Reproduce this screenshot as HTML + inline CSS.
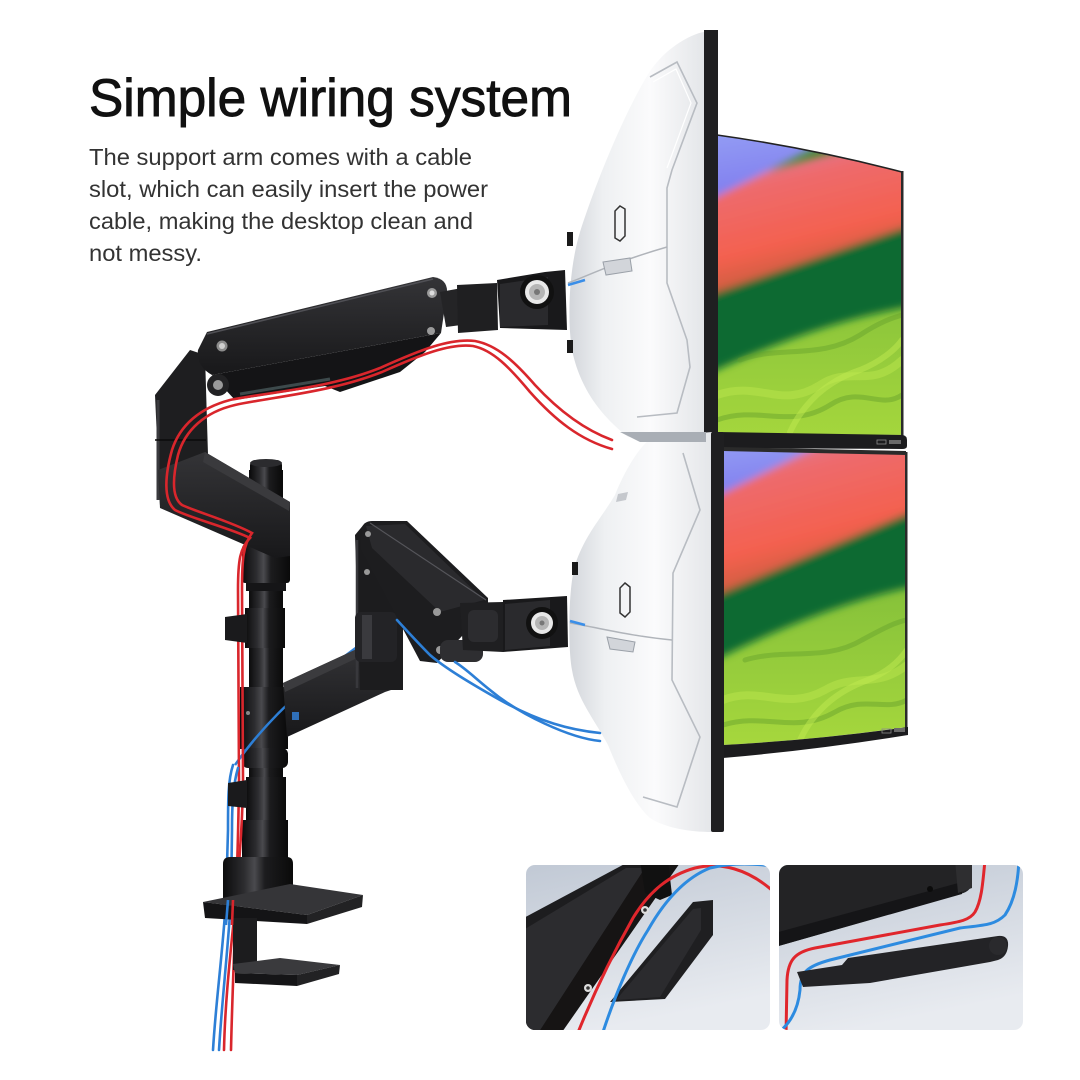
<!DOCTYPE html>
<html><head><meta charset="utf-8">
<style>
html,body{margin:0;padding:0;background:#fff;}
svg{display:block;}
</style></head><body>
<svg width="1080" height="1080" viewBox="0 0 1080 1080" xmlns="http://www.w3.org/2000/svg">
<defs>
 <linearGradient id="shell" x1="0" y1="0" x2="1" y2="0">
  <stop offset="0" stop-color="#d3d6db"/>
  <stop offset="0.25" stop-color="#eef0f2"/>
  <stop offset="0.6" stop-color="#fbfbfc"/>
  <stop offset="1" stop-color="#e4e6e9"/>
 </linearGradient>
 <linearGradient id="pole" x1="0" y1="0" x2="1" y2="0">
  <stop offset="0" stop-color="#0b0b0c"/>
  <stop offset="0.3" stop-color="#2c2c2f"/>
  <stop offset="0.45" stop-color="#4a4a4e"/>
  <stop offset="0.6" stop-color="#1c1c1e"/>
  <stop offset="1" stop-color="#0a0a0a"/>
 </linearGradient>
 <linearGradient id="beam" x1="0" y1="0" x2="0" y2="1">
  <stop offset="0" stop-color="#343437"/>
  <stop offset="1" stop-color="#18181a"/>
 </linearGradient>
 <linearGradient id="lime" x1="0" y1="0" x2="0" y2="1">
  <stop offset="0" stop-color="#2f7a2c"/>
  <stop offset="0.45" stop-color="#84c03a"/>
  <stop offset="1" stop-color="#a7d83d"/>
 </linearGradient>
 <linearGradient id="redband" x1="0" y1="0" x2="0.35" y2="1">
  <stop offset="0" stop-color="#c98fc6"/>
  <stop offset="0.35" stop-color="#ee6a6c"/>
  <stop offset="0.7" stop-color="#f4614f"/>
  <stop offset="1" stop-color="#b65a36"/>
 </linearGradient>
 <linearGradient id="blueband" x1="0" y1="0" x2="0.3" y2="1">
  <stop offset="0" stop-color="#9aa8f6"/>
  <stop offset="1" stop-color="#7d78ee"/>
 </linearGradient>
 <linearGradient id="inset" x1="0" y1="0" x2="0.3" y2="1">
  <stop offset="0" stop-color="#c1c9d5"/>
  <stop offset="1" stop-color="#e8ebf0"/>
 </linearGradient>
 <filter id="blur4" x="-20%" y="-20%" width="140%" height="140%"><feGaussianBlur stdDeviation="4"/></filter>
 <clipPath id="scr1"><path d="M717,135 Q810,148 902,172 L902,435 L717,433 Z"/></clipPath>
 <clipPath id="scr2"><path d="M723,449 L907,454 L907,727 Q815,740 723,745 Z"/></clipPath>
 <clipPath id="ins1"><rect x="526" y="865" width="244" height="165" rx="9"/></clipPath>
 <clipPath id="ins2"><rect x="779" y="865" width="244" height="165" rx="9"/></clipPath>
</defs>

<rect width="1080" height="1080" fill="#ffffff"/>

<!-- TEXT -->
<text x="89" y="116" font-family="Liberation Sans, Arial, sans-serif" font-size="53" fill="#111" stroke="#111" stroke-width="0.9" textLength="483" lengthAdjust="spacingAndGlyphs">Simple wiring system</text>
<g font-family="Liberation Sans, Arial, sans-serif" font-size="23.5" fill="#333">
 <text x="89" y="165" textLength="383" lengthAdjust="spacingAndGlyphs">The support arm comes with a cable</text>
 <text x="89" y="197" textLength="399" lengthAdjust="spacingAndGlyphs">slot, which can easily insert the power</text>
 <text x="89" y="229" textLength="384" lengthAdjust="spacingAndGlyphs">cable, making the desktop clean and</text>
 <text x="89" y="261" textLength="113" lengthAdjust="spacingAndGlyphs">not messy.</text>
</g>

<!-- TOP MONITOR -->
<g clip-path="url(#scr1)">
 <rect x="710" y="120" width="200" height="330" fill="url(#lime)"/>
 <g filter="url(#blur4)">
  <path d="M700,285 L920,212 L920,305 Q820,320 700,378 Z" fill="#0f6a30"/>
  <path d="M700,190 L880,140 L920,150 L920,222 L700,298 Z" fill="url(#redband)"/>
  <path d="M700,110 L890,110 L700,205 Z" fill="url(#blueband)"/>
 </g>
 <g fill="none" stroke-linecap="round">
  <path d="M717,395 C760,380 780,410 820,385 C850,365 870,390 902,360" stroke="#b8e44a" stroke-width="8" opacity="0.55"/>
  <path d="M717,420 C760,405 790,430 830,405 C860,385 880,410 902,395" stroke="#6aa42c" stroke-width="5" opacity="0.5"/>
  <path d="M790,432 C805,400 830,380 860,370 C880,362 895,350 902,340" stroke="#c0ea50" stroke-width="6" opacity="0.5"/>
  <path d="M740,360 C780,345 820,360 860,335 C880,322 892,318 902,315" stroke="#5f9a2a" stroke-width="5" opacity="0.4"/>
 </g>
</g>
<path d="M717,135 Q810,148 902,172" fill="none" stroke="#222" stroke-width="1.5"/>
<rect x="901" y="171" width="2.5" height="266" fill="#2a2a2a"/>
<path d="M717,432 L903,435 Q907,436 907,440 L907,446 Q907,449 902,449 L717,448 Z" fill="#1c1c1e"/>
<rect x="877" y="440" width="9" height="4" fill="none" stroke="#8a8a8a" stroke-width="0.8"/>
<rect x="889" y="440" width="12" height="4" fill="#6a6a6a"/>

<!-- top shell -->
<path d="M704,32 C690,34 662,50 647,76 C622,118 595,185 580,232 C569,268 567,318 572,350 C580,388 600,415 628,437 L704,440 Z" fill="url(#shell)"/>
<path d="M650,77 L677,62 L697,103 L672,170 L667,188 L667,283 L687,340 L690,367 L677,413 L637,417" fill="none" stroke="#b8bcc2" stroke-width="1.6"/>
<path d="M653,82 L676,69 L691,103 L667,168" fill="none" stroke="#ffffff" stroke-width="1.2"/>
<path d="M568,283 C590,275 615,262 667,247" fill="none" stroke="#b0b4ba" stroke-width="1.5"/>
<path d="M568,285 L585,280" stroke="#3a8ee8" stroke-width="2.5"/>
<path d="M603,262 L630,258 L632,271 L606,275 Z" fill="#d2d5da" stroke="#9aa0a8" stroke-width="1"/>
<path d="M620,206 L625,209 L625,236 L620,241 L615,238 L615,211 Z" fill="none" stroke="#333" stroke-width="1.5"/>
<rect x="567" y="232" width="6" height="14" fill="#1a1a1a"/>
<rect x="567" y="340" width="6" height="13" fill="#1a1a1a"/>
<rect x="704" y="30" width="14" height="406" fill="#1f1f21"/>

<!-- BOTTOM MONITOR -->
<g clip-path="url(#scr2)">
 <rect x="715" y="440" width="200" height="310" fill="url(#lime)"/>
 <g filter="url(#blur4)">
  <path d="M700,595 L920,500 L920,585 Q820,605 700,668 Z" fill="#0f6a30"/>
  <path d="M700,490 L840,430 L920,430 L920,508 L700,602 Z" fill="url(#redband)"/>
  <path d="M700,425 L860,425 L700,505 Z" fill="url(#blueband)"/>
 </g>
 <g fill="none" stroke-linecap="round">
  <path d="M723,700 C760,685 785,712 825,690 C855,672 875,690 907,665" stroke="#b8e44a" stroke-width="8" opacity="0.55"/>
  <path d="M723,725 C765,712 795,735 835,712 C865,695 885,712 907,700" stroke="#6aa42c" stroke-width="5" opacity="0.5"/>
  <path d="M800,740 C815,708 840,690 868,680 C888,672 900,660 907,650" stroke="#c0ea50" stroke-width="6" opacity="0.5"/>
  <path d="M745,660 C785,648 825,662 862,640 C884,628 896,622 907,620" stroke="#5f9a2a" stroke-width="5" opacity="0.4"/>
 </g>
</g>
<path d="M723,447 L906,451 L906,455 L723,451 Z" fill="#2a2a2a"/>
<rect x="905" y="452" width="2.5" height="282" fill="#2a2a2a"/>
<path d="M723,745 Q815,740 908,727 L908,735 Q815,750 723,758 Z" fill="#1c1c1e"/>
<rect x="882" y="729" width="9" height="4" fill="none" stroke="#8a8a8a" stroke-width="0.8"/>
<rect x="894" y="728" width="11" height="4" fill="#6a6a6a"/>

<!-- bottom shell -->
<path d="M712,432 L653,437 C640,445 625,470 615,495 C600,520 585,535 575,565 C568,590 568,650 572,670 C577,700 595,720 608,745 C620,775 635,805 650,818 C665,828 690,832 712,832 Z" fill="url(#shell)"/>
<path d="M620,432 L706,432 L706,442 L640,442 Z" fill="#a9aeb5"/>
<path d="M683,453 L700,510 L673,573 L672,680 L700,737 L677,807 L643,797" fill="none" stroke="#b8bcc2" stroke-width="1.6"/>
<path d="M570,623 C600,628 630,636 672,640" fill="none" stroke="#b0b4ba" stroke-width="1.5"/>
<path d="M570,621 L585,625" stroke="#3a8ee8" stroke-width="2.5"/>
<path d="M607,637 L635,642 L633,652 L610,649 Z" fill="#d2d5da" stroke="#9aa0a8" stroke-width="1"/>
<path d="M625,583 L630,587 L630,612 L625,617 L620,613 L620,588 Z" fill="none" stroke="#333" stroke-width="1.5"/>
<rect x="572" y="562" width="6" height="13" fill="#1a1a1a"/>
<path d="M618,494 L628,492 L626,500 L616,502 Z" fill="#c5c8cd"/>
<rect x="711" y="432" width="13" height="400" rx="2" fill="#1f1f21"/>

<!-- POLE -->
<rect x="249" y="470" width="34" height="390" fill="url(#pole)"/>
<rect x="250" y="460" width="32" height="45" rx="5" fill="url(#pole)"/>
<ellipse cx="266" cy="463" rx="16" ry="4" fill="#2b2b2e"/>
<rect x="242" y="545" width="48" height="38" rx="3" fill="url(#pole)"/>
<rect x="246" y="583" width="40" height="8" fill="#151517"/>
<rect x="245" y="608" width="40" height="40" fill="url(#pole)"/>
<rect x="240" y="687" width="48" height="62" fill="url(#pole)"/>
<circle cx="248" cy="713" r="2" fill="#888"/>
<rect x="242" y="748" width="46" height="20" rx="6" fill="url(#pole)"/>
<rect x="246" y="777" width="40" height="43" fill="url(#pole)"/>
<rect x="242" y="820" width="46" height="38" fill="url(#pole)"/>

<!-- hidden blue behind lower arm -->
<path d="M397,620 C350,650 280,700 235,765" fill="none" stroke="#2d7fd6" stroke-width="2.5"/>

<!-- UPPER ARM -->
<path d="M155,395 L190,350 L205,355 L208,455 L205,505 L160,505 Z" fill="#1e1e20"/>
<line x1="158" y1="400" x2="158" y2="500" stroke="#3a3a3e" stroke-width="3"/>
<line x1="155" y1="440" x2="206" y2="440" stroke="#0a0a0a" stroke-width="1.5"/>
<path d="M158,470 L205,452 L290,502 L290,556 L275,558 L160,508 Z" fill="url(#beam)"/>
<path d="M205,452 L290,502 L289,511 L203,462 Z" fill="#3a3a3d"/>
<path d="M212,375 L441,333 L425,352 L400,372 L340,392 L325,386 L235,400 Z" fill="#141416"/>
<path d="M240,394 L330,379" stroke="#3d4a4c" stroke-width="3"/>
<path d="M207,332 L433,277 Q448,279 447,293 L441,333 L212,375 Q196,366 198,350 Z" fill="url(#beam)"/>
<path d="M207,334 L433,279" stroke="#505055" stroke-width="1.5"/>
<circle cx="218" cy="385" r="11" fill="#222224"/>
<circle cx="218" cy="385" r="5" fill="#9a9a9a"/>
<circle cx="222" cy="346" r="5.5" fill="#8c8c8c"/><circle cx="222" cy="346" r="3" fill="#cfcfcf"/>
<circle cx="432" cy="293" r="5" fill="#9a9a9a"/><circle cx="432" cy="293" r="2.5" fill="#ddd"/>
<circle cx="431" cy="331" r="4" fill="#9a9a9a"/>
<path d="M440,292 L462,288 L484,300 L484,322 L446,327 Z" fill="#242426"/>
<path d="M457,285 L497,283 L498,330 L458,333 Z" fill="#1f1f21"/>
<path d="M497,280 L545,272 L565,270 L567,330 L500,328 Z" fill="#19191b"/>
<path d="M500,284 L548,277 L548,325 L500,327 Z" fill="#2a2a2d"/>
<circle cx="537" cy="292" r="17" fill="#111"/>
<circle cx="537" cy="292" r="12" fill="#e9e9e9"/>
<circle cx="537" cy="292" r="8" fill="#b5b5b5"/>
<circle cx="537" cy="292" r="3" fill="#777"/>

<!-- LOWER ARM -->
<path d="M283,683 L370,643 L400,645 L400,687 L385,692 L287,737 Z" fill="url(#beam)"/>
<path d="M283,683 L370,643 L372,651 L285,692 Z" fill="#3b3b3e"/>
<rect x="292" y="712" width="7" height="8" fill="#2f6fb8"/>
<path d="M355,535 L365,523 L403,522 L403,690 L360,690 Z" fill="#1c1c1e"/>
<line x1="357" y1="540" x2="357" y2="688" stroke="#38383c" stroke-width="2.5"/>
<rect x="355" y="612" width="42" height="50" rx="6" fill="#232326"/>
<rect x="362" y="615" width="10" height="44" fill="#3a3a3e"/>
<path d="M362,527 Q365,521 372,521 L407,521 L488,598 L488,608 L437,663 L420,661 L360,548 Z" fill="#1d1d1f"/>
<path d="M366,526 L405,524 L484,600 L440,612 L372,548 Z" fill="#2a2a2d"/>
<path d="M370,523 L486,600" stroke="#55555a" stroke-width="1.2"/>
<circle cx="368" cy="534" r="3" fill="#999"/>
<circle cx="367" cy="572" r="3" fill="#999"/>
<circle cx="437" cy="612" r="4" fill="#999"/>
<circle cx="440" cy="650" r="4" fill="#999"/>
<rect x="440" y="640" width="43" height="22" rx="8" fill="#2e2e31"/>
<path d="M460,603 L503,602 L503,652 L463,650 Z" fill="#1f1f21"/>
<rect x="468" y="610" width="30" height="32" rx="6" fill="#2c2c2f"/>
<path d="M503,600 L567,596 L568,647 L503,652 Z" fill="#19191b"/>
<path d="M505,604 L550,600 L550,646 L505,650 Z" fill="#2a2a2d"/>
<circle cx="542" cy="623" r="16" fill="#111"/>
<circle cx="542" cy="623" r="11" fill="#e9e9e9"/>
<circle cx="542" cy="623" r="7" fill="#b5b5b5"/>
<circle cx="542" cy="623" r="2.5" fill="#777"/>

<!-- RED CABLES -->
<g fill="none" stroke="#d9262c" stroke-width="2.6" stroke-linecap="round">
 <path d="M612,440 C585,430 560,412 535,385 C515,362 497,345 475,341 C450,338 420,350 380,368 C330,388 270,392 230,400 C200,408 180,425 172,450 C165,475 163,500 175,510 C190,518 230,528 250,538 C240,548 238,560 238,590 L239,780 C238,880 233,960 231,1050"/>
 <path d="M612,449 C580,440 555,420 530,392 C510,368 493,350 473,346 C450,343 420,355 382,372 C332,392 272,397 235,405 C205,412 185,430 178,455 C172,480 172,498 182,505 C197,512 232,522 252,533 C243,545 242,560 242,590 L243,780 C242,880 226,960 224,1050"/>
</g>
<!-- BLUE CABLES -->
<g fill="none" stroke="#2d7fd6" stroke-width="2.6" stroke-linecap="round">
 <path d="M600,733 C570,730 540,722 500,700 C470,683 445,668 430,655 C420,645 408,632 397,620"/>
 <path d="M600,741 C570,738 520,715 490,690 C475,678 465,668 455,662"/>
 <path d="M233,765 C228,780 228,800 228,830 L226,900 C222,960 216,1000 213,1050"/>
 <path d="M238,768 C233,785 232,805 232,830 L231,900 C227,960 222,1000 219,1050"/>
</g>

<!-- clips on pole -->
<path d="M225,617 L247,614 L247,643 L225,640 Z" fill="#1a1a1c"/>
<path d="M228,783 L247,780 L247,808 L228,806 Z" fill="#1a1a1c"/>

<!-- CLAMP -->
<path d="M223,864 Q223,857 230,857 L287,857 Q293,857 293,864 L293,898 L223,898 Z" fill="url(#pole)"/>
<path d="M203,902 L290,884 L363,895 L307,915 Z" fill="#353538"/>
<path d="M203,902 L307,915 L307,924 L205,918 Z" fill="#141416"/>
<path d="M307,915 L363,895 L362,907 L307,924 Z" fill="#222224"/>
<rect x="233" y="918" width="24" height="52" fill="#1c1c1e"/>
<path d="M233,964 L280,958 L340,965 L297,975 L235,973 Z" fill="#3a3a3d"/>
<path d="M235,973 L297,975 L297,986 L235,983 Z" fill="#151517"/>
<path d="M297,975 L340,965 L339,974 L297,986 Z" fill="#222224"/>
<g fill="none" stroke-width="2.6">
 <path d="M228,900 L226,925" stroke="#2d7fd6"/>
 <path d="M233,900 L232,925" stroke="#d9262c"/>
</g>

<!-- INSET LEFT -->
<g clip-path="url(#ins1)">
 <rect x="526" y="865" width="244" height="165" fill="url(#inset)"/>
 <path d="M520,920 L632,860 L682,860 L552,1035 L520,1035 Z" fill="#1d1d1f"/>
 <path d="M520,932 L626,868 L645,868 L537,1035 L520,1035 Z" fill="#2c2c2f"/>
 <path d="M645,868 L682,860 L560,1035 L537,1035 Z" fill="#161414"/>
 <circle cx="645" cy="910" r="4" fill="#ddd"/><circle cx="645" cy="910" r="1.8" fill="#333"/>
 <circle cx="588" cy="988" r="4" fill="#ddd"/><circle cx="588" cy="988" r="1.8" fill="#333"/>
 <path d="M640,860 L668,860 L672,895 L660,900 L645,893 Z" fill="#111"/>
 <path d="M610,1002 L693,902 L713,900 L713,935 L665,999 Z" fill="#1f1f21"/>
 <path d="M616,1000 L693,909 L701,908 L701,930 L660,997 Z" fill="#2b2b2e"/>
 <path d="M577,1035 C595,990 615,950 633,918 C650,890 670,875 695,868 C720,862 748,868 775,893" fill="none" stroke="#e0262c" stroke-width="3"/>
 <path d="M602,1035 C615,995 632,955 648,930 C665,900 685,878 710,868 C735,862 755,864 775,866" fill="none" stroke="#2d8be0" stroke-width="3"/>
</g>

<!-- INSET RIGHT -->
<g clip-path="url(#ins2)">
 <rect x="779" y="865" width="244" height="165" fill="url(#inset)"/>
 <path d="M775,860 L972,860 L972,884 Q970,892 960,894 L775,947 Z" fill="#232325"/>
 <path d="M775,933 L962,882 L962,894 L775,947 Z" fill="#151517"/>
 <path d="M955,860 L972,860 L972,888 L958,893 Z" fill="#2e2e30"/>
 <circle cx="930" cy="889" r="3" fill="#0b0b0b"/>
 <path d="M985,860 C983,880 982,900 975,912 C970,920 960,922 940,925 L815,948 C795,952 788,960 787,980 L786,1035" fill="none" stroke="#e0262c" stroke-width="3"/>
 <path d="M1019,860 C1018,880 1015,900 1005,915 C995,925 985,925 960,928 L830,960 C808,966 800,972 800,990 C798,1010 790,1025 775,1035" fill="none" stroke="#2d8be0" stroke-width="3"/>
 <path d="M797,972 L842,965 L848,958 L998,936 Q1009,935 1008,946 Q1007,957 998,960 L990,962 L870,983 L803,987 Z" fill="#232326"/>
 <circle cx="998" cy="946" r="9" fill="#2a2a2d"/>
</g>
</svg>
</body></html>
